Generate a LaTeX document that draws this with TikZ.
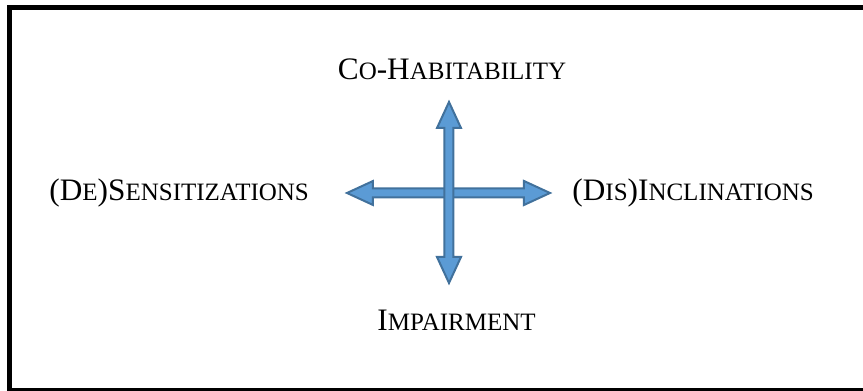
\documentclass[tikz,border=0pt]{standalone}
\usepackage{fontspec}
\setmainfont{Liberation Serif}
\usetikzlibrary{positioning}

\definecolor{arrowfill}{HTML}{5B9BD5}
\definecolor{arrowline}{HTML}{41719C}
\newcommand{\smc}[1]{{\fontsize{10pt}{12pt}\selectfont #1}}

\tikzset{
  label/.style={inner sep=0pt, font=\fontsize{12.5pt}{14pt}\selectfont},
  blockarrow/.style={fill=arrowfill, draw=arrowline, line width=0.8pt, line join=miter}
}

\begin{document}
\begin{tikzpicture}[x=0.4pt, y=-0.4pt]
      \useasboundingbox (0,0) rectangle (863,391);
      \clip (0,0) rectangle (863,391);
      % frame
      \draw[line width=2pt] (9.5,7.5) rectangle (870,391);
      % horizontal arrow
      \draw[blockarrow] (347,193) -- (373,181) -- (373,188.5) -- (524,188.5) -- (524,181) -- (550,193)
            -- (524,205) -- (524,197.5) -- (373,197.5) -- (373,205) -- cycle;
      % vertical arrow
      \draw[blockarrow] (449,102) -- (461,128) -- (453.5,128) -- (453.5,257) -- (461,257) -- (449,283)
            -- (437,257) -- (444.5,257) -- (444.5,128) -- (437,128) -- cycle;
      % labels
      \node[label, anchor=base] (cohab) at (452,80) {C\smc{O}-H\smc{ABITABILITY}};
      \node[label, anchor=base west] (desens) at (49,201) {(D\smc{E})S\smc{ENSITIZATIONS}};
      \node[label, anchor=base west] (disincl) at (572,201) {(D\smc{IS})I\smc{NCLINATIONS}};
      \node[label, anchor=base west] (impair) at (377,331) {I\smc{MPAIRMENT}};
\end{tikzpicture}
\end{document}
